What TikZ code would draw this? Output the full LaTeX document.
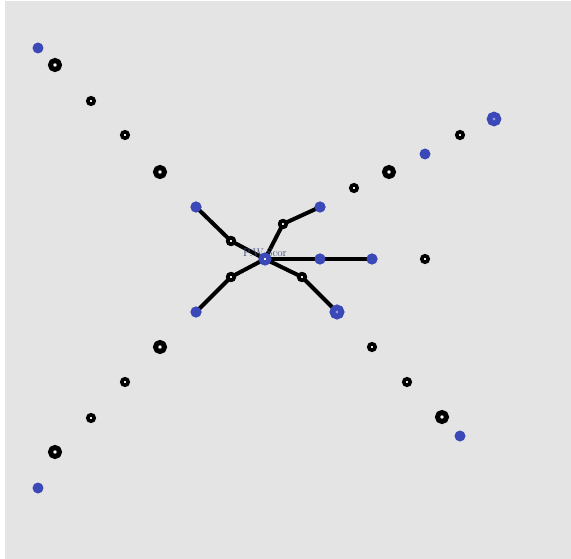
\documentclass[tikz,border=0pt]{standalone}
\usepackage{tikz}
\usetikzlibrary{positioning}
\definecolor{PanelGray}{HTML}{E4E4E4}
\definecolor{DotBlue}{HTML}{3A48B8}
\definecolor{LabelSlate}{HTML}{3E4A78}
\tikzset{
  bigring/.style={circle,draw=black,fill=white,line width=5pt,inner sep=0pt,minimum size=9pt},
  smallring/.style={circle,draw=black,fill=white,line width=3.6pt,inner sep=0pt,minimum size=6.4pt},
  bluedot/.style={circle,fill=DotBlue,inner sep=0pt,minimum size=11pt},
  bigblue/.style={circle,draw=DotBlue,fill=DotBlue!55!white,line width=5.5pt,inner sep=0pt,minimum size=9pt},
  hub/.style={circle,draw=DotBlue,fill=white,line width=5pt,inner sep=0pt,minimum size=8pt},
  spoke/.style={line width=4pt,black}
}
\begin{document}
\begin{tikzpicture}[x=1pt,y=-1pt]
\useasboundingbox (0,0) rectangle (571,559);
\fill[PanelGray] (5,1) rectangle (571,559);
% hub and spokes
\coordinate (c) at (265,259);
\node[smallring] (ulm) at (231,241) {};
\node[bluedot] (ule) at (196,207) {};
\node[smallring] (llm) at (231,277) {};
\node[bluedot] (lle) at (196,312) {};
\node[smallring] (urm) at (283,224) {};
\node[bluedot] (ure) at (320,207) {};
\node[bluedot] (rm) at (320,259) {};
\node[bluedot] (re) at (372,259) {};
\node[smallring] (lrm) at (302,277) {};
\node[bigblue] (lre) at (337,312) {};
\draw[spoke] (c)--(ulm.center)--(ule.center);
\draw[spoke] (c)--(llm.center)--(lle.center);
\draw[spoke] (c)--(urm.center)--(ure.center);
\draw[spoke] (c)--(rm.center)--(re.center);
\draw[spoke] (c)--(lrm.center)--(lre.center);
\node[smallring] at (ulm) {};\node[bluedot] at (ule) {};
\node[smallring] at (llm) {};\node[bluedot] at (lle) {};
\node[smallring] at (urm) {};\node[bluedot] at (ure) {};
\node[bluedot] at (rm) {};\node[bluedot] at (re) {};
\node[smallring] at (lrm) {};\node[bigblue] at (lre) {};
\node[text=LabelSlate,font=\fontsize{11}{11}\selectfont,inner sep=0pt] (lbl) at (265,253) {P.W.Scor};
\node[hub] (h) at (c) {};
% upper left arm
\node[bluedot] (ul1) at (38,48) {};
\node[bigring] (ul2) at (55,65) {};
\node[smallring] (ul3) at (91,101) {};
\node[smallring] (ul4) at (125,135) {};
\node[bigring] (ul5) at (160,172) {};
% lower left arm
\node[bluedot] (ll1) at (38,488) {};
\node[bigring] (ll2) at (55,452) {};
\node[smallring] (ll3) at (91,418) {};
\node[smallring] (ll4) at (125,382) {};
\node[bigring] (ll5) at (160,347) {};
% upper right arm
\node[bigblue] (ur1) at (494,119) {};
\node[smallring] (ur2) at (460,135) {};
\node[bluedot] (ur3) at (425,154) {};
\node[bigring] (ur4) at (389,172) {};
\node[smallring] (ur5) at (354,188) {};
% right
\node[smallring] (r1) at (425,259) {};
% lower right arm
\node[smallring] (lr1) at (372,347) {};
\node[smallring] (lr2) at (407,382) {};
\node[bigring] (lr3) at (442,417) {};
\node[bluedot] (lr4) at (460,436) {};
\end{tikzpicture}
\end{document}
